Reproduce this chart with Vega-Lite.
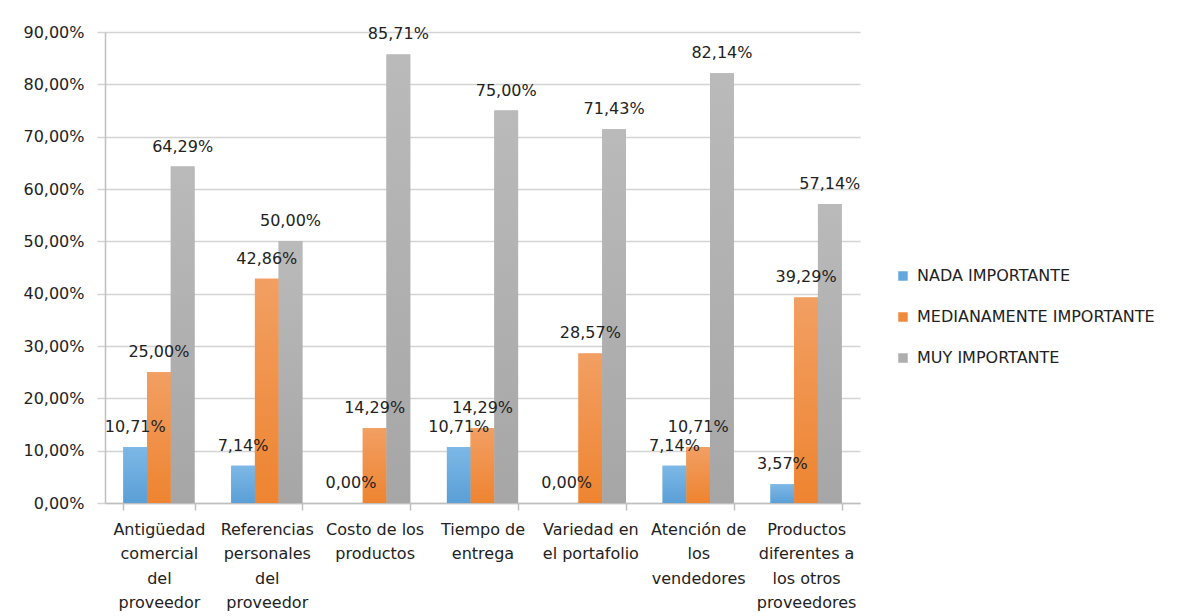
{
  "$schema": "https://vega.github.io/schema/vega-lite/v6.json",
  "width": 755,
  "height": 471,
  "autosize": "none",
  "padding": {"left": 105, "top": 32, "right": 326, "bottom": 113},
  "background": "white",
  "config": {
    "font": "DejaVu Sans",
    "view": {"stroke": null},
    "text": {"color": "#222222"}
  },
  "data": {
    "values": [
      {"cat": "Antigüedad|comercial|del|proveedor", "serie": "NADA IMPORTANTE", "pct": 10.71},
      {"cat": "Antigüedad|comercial|del|proveedor", "serie": "MEDIANAMENTE IMPORTANTE", "pct": 25.00},
      {"cat": "Antigüedad|comercial|del|proveedor", "serie": "MUY IMPORTANTE", "pct": 64.29},
      {"cat": "Referencias|personales|del|proveedor", "serie": "NADA IMPORTANTE", "pct": 7.14},
      {"cat": "Referencias|personales|del|proveedor", "serie": "MEDIANAMENTE IMPORTANTE", "pct": 42.86},
      {"cat": "Referencias|personales|del|proveedor", "serie": "MUY IMPORTANTE", "pct": 50.00},
      {"cat": "Costo de los|productos", "serie": "NADA IMPORTANTE", "pct": 0.00},
      {"cat": "Costo de los|productos", "serie": "MEDIANAMENTE IMPORTANTE", "pct": 14.29},
      {"cat": "Costo de los|productos", "serie": "MUY IMPORTANTE", "pct": 85.71},
      {"cat": "Tiempo de|entrega", "serie": "NADA IMPORTANTE", "pct": 10.71},
      {"cat": "Tiempo de|entrega", "serie": "MEDIANAMENTE IMPORTANTE", "pct": 14.29},
      {"cat": "Tiempo de|entrega", "serie": "MUY IMPORTANTE", "pct": 75.00},
      {"cat": "Variedad en|el portafolio", "serie": "NADA IMPORTANTE", "pct": 0.00},
      {"cat": "Variedad en|el portafolio", "serie": "MEDIANAMENTE IMPORTANTE", "pct": 28.57},
      {"cat": "Variedad en|el portafolio", "serie": "MUY IMPORTANTE", "pct": 71.43},
      {"cat": "Atención de|los|vendedores", "serie": "NADA IMPORTANTE", "pct": 7.14},
      {"cat": "Atención de|los|vendedores", "serie": "MEDIANAMENTE IMPORTANTE", "pct": 10.71},
      {"cat": "Atención de|los|vendedores", "serie": "MUY IMPORTANTE", "pct": 82.14},
      {"cat": "Productos|diferentes a|los otros|proveedores", "serie": "NADA IMPORTANTE", "pct": 3.57},
      {"cat": "Productos|diferentes a|los otros|proveedores", "serie": "MEDIANAMENTE IMPORTANTE", "pct": 39.29},
      {"cat": "Productos|diferentes a|los otros|proveedores", "serie": "MUY IMPORTANTE", "pct": 57.14}
    ]
  },
  "transform": [
    {"calculate": "replace(format(datum.pct, '.2f'), '.', ',') + '%'", "as": "label"}
  ],
  "encoding": {
    "x": {
      "field": "cat",
      "type": "nominal",
      "sort": null,
      "title": null,
      "scale": {"paddingInner": 0.34, "paddingOuter": 0.17},
      "axis": {
        "labelExpr": "isValid(datum.value) ? split(datum.value, '|') : ''",
        "labelAngle": 0,
        "labelFontSize": 16,
        "labelColor": "#222222",
        "labelLineHeight": 24.5,
        "labelBaseline": "top",
        "labelPadding": 11,
        "labelLimit": 0,
        "tickBand": "extent",
        "tickSize": 7,
        "tickColor": "#bfbfbf",
        "tickWidth": 1.5,
        "domainColor": "#bfbfbf",
        "domainWidth": 1.5
      }
    },
    "xOffset": {
      "field": "serie",
      "sort": ["NADA IMPORTANTE", "MEDIANAMENTE IMPORTANTE", "MUY IMPORTANTE"]
    },
    "y": {
      "field": "pct",
      "type": "quantitative",
      "title": null,
      "scale": {"domain": [0, 90], "nice": false},
      "axis": {
        "values": [0, 10, 20, 30, 40, 50, 60, 70, 80, 90],
        "labelExpr": "replace(format(datum.value, '.2f'), '.', ',') + '%'",
        "labelFontSize": 16,
        "labelColor": "#222222",
        "labelPadding": 13,
        "tickSize": 8,
        "tickColor": "#d4d4d4",
        "tickWidth": 1.5,
        "gridColor": "#d4d4d4",
        "gridWidth": 1.5,
        "domainColor": "#bfbfbf",
        "domainWidth": 1.5
      }
    }
  },
  "layer": [
    {
      "mark": {"type": "bar"},
      "encoding": {
        "color": {
          "field": "serie",
          "type": "nominal",
          "sort": ["NADA IMPORTANTE", "MEDIANAMENTE IMPORTANTE", "MUY IMPORTANTE"],
          "scale": {
            "domain": ["NADA IMPORTANTE", "MEDIANAMENTE IMPORTANTE", "MUY IMPORTANTE"],
            "range": ["#64a8dd", "#ef8a3e", "#aeaeae"]
          },
          "legend": {
            "title": null,
            "orient": "none",
            "legendX": 790,
            "legendY": 236,
            "symbolType": "square",
            "symbolSize": 90,
            "symbolStrokeWidth": 0,
            "labelFontSize": 16,
            "labelColor": "#222222",
            "labelOffset": 6,
            "rowPadding": 25,
            "labelLimit": 0
          }
        }
      }
    },
    {
      "transform": [{"filter": "datum.serie === 'NADA IMPORTANTE'"}],
      "mark": {
        "type": "bar",
        "color": {
          "gradient": "linear", "x1": 0, "y1": 0, "x2": 0, "y2": 1,
          "stops": [{"offset": 0, "color": "#7db8e6"}, {"offset": 1, "color": "#5a9fd7"}]
        }
      }
    },
    {
      "transform": [{"filter": "datum.serie === 'MEDIANAMENTE IMPORTANTE'"}],
      "mark": {
        "type": "bar",
        "color": {
          "gradient": "linear", "x1": 0, "y1": 0, "x2": 0, "y2": 1,
          "stops": [{"offset": 0, "color": "#f29f63"}, {"offset": 1, "color": "#ee8430"}]
        }
      }
    },
    {
      "transform": [{"filter": "datum.serie === 'MUY IMPORTANTE'"}],
      "mark": {
        "type": "bar",
        "color": {
          "gradient": "linear", "x1": 0, "y1": 0, "x2": 0, "y2": 1,
          "stops": [{"offset": 0, "color": "#bababa"}, {"offset": 1, "color": "#a6a6a6"}]
        }
      }
    },
    {
      "mark": {"type": "text", "baseline": "bottom", "dy": -12, "fontSize": 16},
      "encoding": {"text": {"field": "label"}}
    }
  ]
}
